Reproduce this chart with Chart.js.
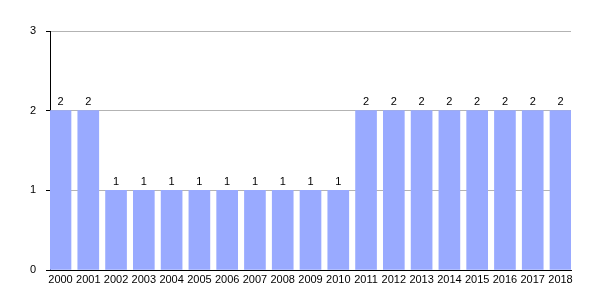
<!DOCTYPE html>
<html>
<head>
<meta charset="utf-8">
<script src="https://cdn.jsdelivr.net/npm/chart.js@4/dist/chart.umd.min.js"></script>
<style>
  html, body { margin: 0; padding: 0; background: #fff; }
  #chart { display: block; }
</style>
</head>
<body>
<canvas id="chart" width="600" height="300"></canvas>
<script>
const years = ["2000", "2001", "2002", "2003", "2004", "2005", "2006", "2007", "2008", "2009",
  "2010", "2011", "2012", "2013", "2014", "2015", "2016", "2017", "2018"];
const counts = [2, 2, 1, 1, 1, 1, 1, 1, 1, 1, 1, 2, 2, 2, 2, 2, 2, 2, 2];
const yTicks = [0, 1, 2, 3];

const barColor = "#99aaff";
const gridColor = "#b3b3b3";
const font = { family: "'Liberation Sans', Arial, sans-serif", size: 11 };

// puts the value over each bar
const valueLabels = {
  id: "valueLabels",
  afterDatasetsDraw(chart) {
    const c = chart.ctx;
    const meta = chart.getDatasetMeta(0);
    c.save();
    c.fillStyle = "#000";
    c.font = font.size + "px " + font.family;
    c.textAlign = "center";
    c.textBaseline = "bottom";
    meta.data.forEach((bar, i) => {
      c.fillText(String(counts[i]), bar.x, bar.y - 3);
    });
    c.restore();
  },
};

const points = counts.map((v, i) => ({ x: i, y: v }));

new Chart(document.getElementById("chart").getContext("2d"), {
  type: "bar",
  data: {
    datasets: [{
      data: points,
      backgroundColor: barColor,
      borderWidth: 0,
      barThickness: 21,
    }],
  },
  options: {
    responsive: false,
    animation: false,
    layout: { padding: { top: 31, right: 29, left: 0, bottom: 0 } },
    plugins: { legend: { display: false }, tooltip: { enabled: false } },
    scales: {
      x: {
        type: "linear",
        offset: false,
        min: -0.378,
        max: years.length - 1 + 0.378,
        afterBuildTicks: (axis) => {
          axis.ticks = years.map((y, i) => ({ value: i }));
        },
        afterFit: (axis) => { axis.height = 30; },
        grid: { display: false, drawTicks: false },
        border: { display: true, color: "#000", width: 1 },
        ticks: {
          color: "#000",
          font: font,
          padding: 3,
          maxRotation: 0,
          autoSkip: false,
          callback: (v) => years[v] || "",
        },
      },
      y: {
        min: 0,
        max: 3,
        afterBuildTicks: (axis) => {
          axis.ticks = yTicks.map((v) => ({ value: v }));
        },
        afterFit: (axis) => { axis.width = 50; },
        grid: {
          color: gridColor,
          drawTicks: true,
          tickLength: 4,
          tickColor: "#000",
        },
        border: { display: true, color: "#000", width: 1 },
        ticks: { color: "#000", font: font, padding: 10 },
      },
    },
  },
  plugins: [valueLabels],
});
</script>
</body>
</html>
